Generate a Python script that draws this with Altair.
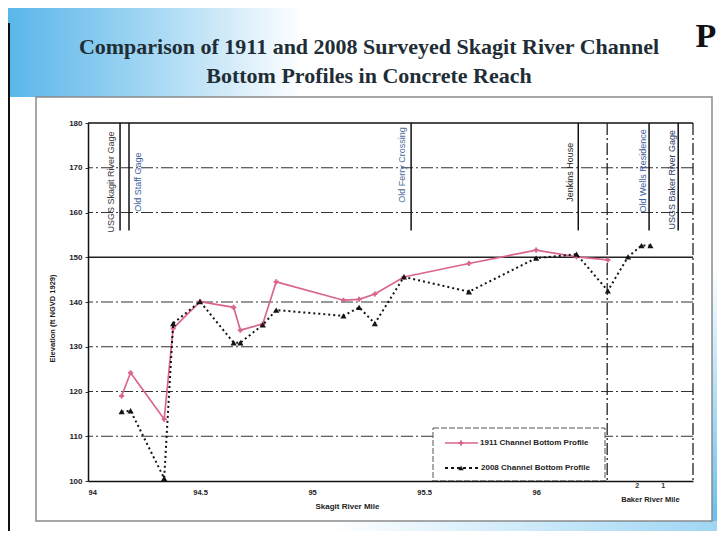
import altair as alt
import pandas as pd

# ---------------- data ----------------
series_names = ["1911  Channel Bottom Profile", "2008 Channel Bottom Profile"]

miles_1911 = [94.15, 94.19, 94.34, 94.38, 94.50, 94.65, 94.68, 94.78, 94.84,
              95.14, 95.21, 95.28, 95.41, 95.70, 96.00, 96.18, 96.32]
elev_1911 = [119.0, 124.2, 113.8, 134.1, 140.1, 138.8, 133.7, 135.1, 144.5,
             140.4, 140.6, 141.8, 145.6, 148.6, 151.6, 150.1, 149.4]

miles_2008 = [94.15, 94.19, 94.34, 94.38, 94.50, 94.65, 94.68, 94.78, 94.84,
              95.14, 95.21, 95.28, 95.41, 95.70, 96.00, 96.18, 96.32, 96.41,
              96.47, 96.51]
elev_2008 = [115.5, 115.7, 100.6, 135.2, 140.1, 130.9, 130.9, 134.9, 138.2,
             136.9, 138.8, 135.2, 145.6, 142.3, 149.8, 150.7, 142.5, 150.1,
             152.6, 152.6]

landmarks = ["USGS Skagit River Gage", "Old Staff Gage", "Old Ferry Crossing",
             "Jenkins House", "Old Wells Residence", "USGS Baker River Gage"]
landmark_miles = [94.143, 94.183, 95.442, 96.188, 96.504, 96.634]
landmark_label_miles = [94.103, 94.223, 95.402, 96.152, 96.478, 96.607]
landmark_label_elev = [166.8, 166.8, 170.6, 169.0, 169.3, 167.3]
landmark_colors = ["#3a3a3a", "#3d5c9c", "#4d6a98", "#222222", "#3d5c9c", "#2c3460"]
landmark_line_top = 180
landmark_line_bottom = 156

x_ticks = [94, 94.5, 95, 95.5, 96]
y_ticks = [100, 110, 120, 130, 140, 150, 160, 170, 180]
grid_dashdot = [110, 120, 130, 140, 160, 170]
grid_solid = [150]
x_domain = [94, 96.70]
y_domain = [100, 180]
baker_boundary = 96.317
baker_ticks = [96.451, 96.567]
baker_tick_labels = ["2", "1"]
baker_title_mile = 96.51

title_lines = ["Comparison of 1911 and 2008 Surveyed Skagit River Channel",
               "Bottom Profiles in Concrete Reach"]

PINK = "#d9668a"
BLACK = "#141414"

xs = alt.Scale(domain=x_domain, nice=False, zero=False)
ys = alt.Scale(domain=y_domain, nice=False, zero=False)

x_axis = alt.Axis(values=x_ticks, format="~g", title="Skagit River Mile", grid=False,
                  zindex=2, ticks=False, labelFontSize=7.5, labelFontWeight="bold",
                  labelFont="Liberation Sans", labelColor="#222",
                  labelPadding=7, domainColor="#111", domainWidth=1.5,
                  titleFontSize=8, titleFont="Liberation Sans",
                  titleFontWeight="bold", titleColor="#222",
                  titleX=259, titleY=25, titleBaseline="middle",
                  titleAlign="center")
y_axis = alt.Axis(values=y_ticks, title="Elevation (ft NGVD 1929)", grid=False, zindex=2,
                  tickSize=3, tickColor="#333", labelFontSize=8,
                  labelFontWeight="bold", labelFont="Liberation Sans",
                  labelColor="#222", labelPadding=3, domainColor="#111",
                  domainWidth=1.5, titleFontSize=7.5,
                  titleFont="Liberation Sans", titleFontWeight="bold",
                  titleColor="#222", titlePadding=12, titleY=195)

one = pd.DataFrame({"k": [0]})


def X(field):
    return alt.X(field, scale=xs, axis=x_axis)


def Y(field):
    return alt.Y(field, scale=ys, axis=y_axis)


# ---------------- slide decorations ----------------
top_glow = alt.Chart(one).mark_rect(
    fill=alt.Gradient(gradient="linear",
                      stops=[alt.GradientStop(color="#5ab6ea", offset=0),
                             alt.GradientStop(color="#9ed4f2", offset=0.45),
                             alt.GradientStop(color="#ffffff", offset=1)],
                      x1=0, x2=1, y1=0, y2=0)
).encode(x=alt.value(-80), x2=alt.value(215), y=alt.value(-115), y2=alt.value(-26))

right_strip = alt.Chart(one).mark_rect(
    fill=alt.Gradient(gradient="linear",
                      stops=[alt.GradientStop(color="#ffffff", offset=0),
                             alt.GradientStop(color="#62bdf0", offset=1)],
                      x1=0, x2=0, y1=0, y2=1)
).encode(x=alt.value(624), x2=alt.value(629), y=alt.value(140), y2=alt.value(408))

bottom_strip = alt.Chart(one).mark_rect(
    fill=alt.Gradient(gradient="linear",
                      stops=[alt.GradientStop(color="#ffffff", offset=0),
                             alt.GradientStop(color="#9fd6f4", offset=1)],
                      x1=0, x2=1, y1=0, y2=0)
).encode(x=alt.value(240), x2=alt.value(629), y=alt.value(398), y2=alt.value(408))

panel = alt.Chart(one).mark_rect(fill="white", stroke="#8a8a8a", strokeWidth=1.5).encode(
    x=alt.value(-52), x2=alt.value(624), y=alt.value(-26), y2=alt.value(398))

left_frame = alt.Chart(one).mark_rule(color="#111", strokeWidth=2).encode(
    x=alt.value(-79), y=alt.value(-100), y2=alt.value(408))

logo = alt.Chart(one).mark_text(text="P", font="Liberation Serif", fontSize=34,
                                fontWeight="bold", color="#111",
                                align="center", baseline="middle").encode(
    x=alt.value(618), y=alt.value(-86))

title1 = alt.Chart(one).mark_text(text=title_lines[0], font="Liberation Serif", fontSize=22,
                                  fontWeight="bold", color="#1f2e36",
                                  align="center", baseline="middle").encode(
    x=alt.value(281), y=alt.value(-76))
title2 = alt.Chart(one).mark_text(text=title_lines[1], font="Liberation Serif", fontSize=22,
                                  fontWeight="bold", color="#1f2e36",
                                  align="center", baseline="middle").encode(
    x=alt.value(281), y=alt.value(-47))

# ---------------- plot frame & grid ----------------
grid_dd = alt.Chart(pd.DataFrame({"v": grid_dashdot})).mark_rule(
    color="#333", strokeWidth=1.2, strokeDash=[12, 3, 2, 3]).encode(y=Y("v:Q"))
grid_s = alt.Chart(pd.DataFrame({"v": grid_solid})).mark_rule(
    color="#222", strokeWidth=1.3).encode(y=Y("v:Q"))
top_border = alt.Chart(pd.DataFrame({"v": [y_domain[1]]})).mark_rule(
    color="#111", strokeWidth=1.5).encode(y=Y("v:Q"))
vbounds = alt.Chart(pd.DataFrame({"m": [baker_boundary, x_domain[1]]})).mark_rule(
    color="#222", strokeWidth=1.3, strokeDash=[12, 3, 2, 3]).encode(x=X("m:Q"))

lm_df = pd.DataFrame({"m": landmark_miles, "top": landmark_line_top,
                      "bot": landmark_line_bottom})
lm_rules = alt.Chart(lm_df).mark_rule(color="#111", strokeWidth=1.5).encode(
    x=X("m:Q"), y=Y("top:Q"), y2="bot:Q")

lm_text_df = pd.DataFrame({"name": landmarks, "m": landmark_label_miles,
                           "e": landmark_label_elev, "c": landmark_colors})
lm_text = alt.Chart(lm_text_df).mark_text(angle=270, align="center", baseline="middle",
                                          fontSize=9, font="Liberation Sans").encode(
    x=X("m:Q"), y=Y("e:Q"), text="name:N", color=alt.Color("c:N", scale=None))

# ---------------- data series ----------------
df1911 = pd.DataFrame({"mile": miles_1911, "elev": elev_1911})
df2008 = pd.DataFrame({"mile": miles_2008, "elev": elev_2008})

line1911 = alt.Chart(df1911).mark_line(color=PINK, strokeWidth=1.7).encode(
    x=X("mile:Q"), y=Y("elev:Q"))
pts1911 = alt.Chart(df1911).mark_point(shape="cross", filled=True, size=26,
                                       color=PINK, opacity=1).encode(
    x=X("mile:Q"), y=Y("elev:Q"))
line2008 = alt.Chart(df2008).mark_line(color=BLACK, strokeWidth=2,
                                       strokeDash=[2, 3]).encode(
    x=X("mile:Q"), y=Y("elev:Q"))
pts2008 = alt.Chart(df2008).mark_point(shape="triangle-up", filled=True, size=38,
                                       color=BLACK, opacity=1).encode(
    x=X("mile:Q"), y=Y("elev:Q"))

# ---------------- Baker River mile labels ----------------
baker_lab = alt.Chart(pd.DataFrame({"m": baker_ticks, "t": baker_tick_labels})).mark_text(
    fontSize=7, fontWeight="bold", font="Liberation Sans", color="#333",
    baseline="middle").encode(x=X("m:Q"), y=alt.value(363), text="t:N")
baker_title = alt.Chart(pd.DataFrame({"m": [baker_title_mile], "t": ["Baker River Mile"]})).mark_text(
    fontSize=7.5, fontWeight="bold", font="Liberation Sans", color="#222",
    baseline="middle").encode(x=X("m:Q"), y=alt.value(377), text="t:N")

# ---------------- legend (drawn box) ----------------
leg_box = alt.Chart(one).mark_rect(fill="white", stroke="#555", strokeWidth=1,
                                   strokeDash=[6, 2]).encode(
    x=alt.value(345), x2=alt.value(517), y=alt.value(305), y2=alt.value(358))
leg_l1 = alt.Chart(one).mark_rule(color=PINK, strokeWidth=1.7).encode(
    x=alt.value(357), x2=alt.value(390), y=alt.value(320))
leg_p1 = alt.Chart(one).mark_point(shape="cross", filled=True, size=26, color=PINK,
                                   opacity=1).encode(x=alt.value(373), y=alt.value(320))
leg_l2 = alt.Chart(one).mark_rule(color=BLACK, strokeWidth=2, strokeDash=[3, 3]).encode(
    x=alt.value(357), x2=alt.value(392), y=alt.value(345))
leg_p2 = alt.Chart(one).mark_point(shape="triangle-up", filled=True, size=30, color=BLACK,
                                   opacity=1).encode(x=alt.value(373), y=alt.value(345))
leg_t1 = alt.Chart(one).mark_text(text=series_names[0], fontSize=8, fontWeight="bold",
                                  font="Liberation Sans", color="#222", align="left",
                                  baseline="middle").encode(x=alt.value(392), y=alt.value(320))
leg_t2 = alt.Chart(one).mark_text(text=series_names[1], fontSize=8, fontWeight="bold",
                                  font="Liberation Sans", color="#222", align="left",
                                  baseline="middle").encode(x=alt.value(393), y=alt.value(345))

chart = alt.layer(
    top_glow, right_strip, bottom_strip, panel, left_frame, logo, title1, title2,
    grid_dd, grid_s, top_border, vbounds, lm_rules, lm_text,
    line1911, pts1911, line2008, pts2008,
    baker_lab, baker_title,
    leg_box, leg_l1, leg_p1, leg_l2, leg_p2, leg_t1, leg_t2,
).properties(
    width=605, height=358, autosize="none",
    padding={"left": 80, "top": 115, "right": 24, "bottom": 50},
).configure_view(stroke=None).configure(background="white")

chart.save("out.html", embed_options={"renderer": "svg", "actions": False})
